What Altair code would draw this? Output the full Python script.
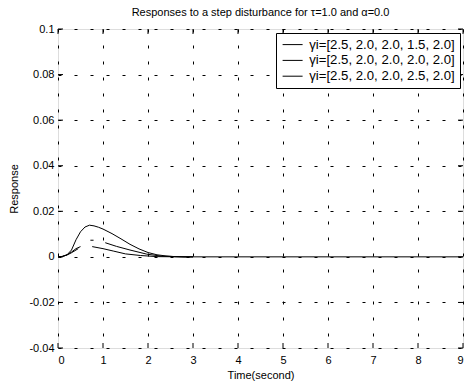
import altair as alt
import pandas as pd

FONT = "Liberation Sans"

series_labels = [
    "γi=[2.5, 2.0, 2.0, 1.5, 2.0]",
    "γi=[2.5, 2.0, 2.0, 2.0, 2.0]",
    "γi=[2.5, 2.0, 2.0, 2.5, 2.0]",
]

# curve 1 (gamma5 = 1.5)
c1_t = [0, 0.1, 0.2, 0.3, 0.4, 0.5, 0.6, 0.7, 0.8, 0.9, 1.0, 1.2, 1.4, 1.6, 1.8, 2.0, 2.2, 2.4, 2.6, 2.8, 3.0, 9.0]
c1_y = [0, 0.0002, 0.0009, 0.0030, 0.0075, 0.0110, 0.0131, 0.0139, 0.0136, 0.0130, 0.0122, 0.0102, 0.0079,
        0.0055, 0.0035, 0.0019, 0.0009, 0.0004, 0.0001, 0, 0, 0]

# curve 2 (gamma5 = 2.0), drawn in broken pieces as in the picture
c2a_t = [0, 0.1, 0.2, 0.3, 0.4, 0.45]
c2a_y = [0, 0.0002, 0.0008, 0.0018, 0.0030, 0.0036]
c2b_t = [0.76, 1.0, 1.24, 1.5, 1.83, 2.2, 2.8, 3.0]
c2b_y = [0.0045, 0.0036, 0.0025, 0.0013, 0.0006, 0.0001, 0, 0]

# curve 3 (gamma5 = 2.5)
c3a_t = [0, 0.1, 0.2, 0.3, 0.4, 0.5]
c3a_y = [0, 0.0002, 0.0009, 0.0021, 0.0036, 0.0045]
c3b_t = [0.72, 0.79]
c3b_y = [0.0073, 0.0073]
c3c_t = [1.05, 1.3, 1.6, 1.97, 2.3, 2.8, 3.0]
c3c_y = [0.0062, 0.0046, 0.0030, 0.0012, 0.0003, 0, 0]

x_ticks = [0, 1, 2, 3, 4, 5, 6, 7, 8, 9]
y_ticks = [-0.04, -0.02, 0, 0.02, 0.04, 0.06, 0.08, 0.1]

rows = []
for s, seg, ts, ys in [
    (0, "1a", c1_t, c1_y),
    (1, "2a", c2a_t, c2a_y), (1, "2b", c2b_t, c2b_y),
    (2, "3a", c3a_t, c3a_y), (2, "3b", c3b_t, c3b_y), (2, "3c", c3c_t, c3c_y),
]:
    for t, y in zip(ts, ys):
        rows.append({"t": t, "y": y, "series": series_labels[s], "seg": seg})
df = pd.DataFrame(rows)

W, H = 405, 319

xscale = alt.Scale(domain=[0, 9], nice=False, zero=False)
yscale = alt.Scale(domain=[-0.04, 0.1], nice=False, zero=False)

axis_common = dict(ticks=False, domain=False, grid=True, gridDash=[3, 13], gridColor="black",
                   gridOpacity=1, gridWidth=1,
                   labelFont=FONT, labelFontSize=11, labelColor="black",
                   titleFont=FONT, titleFontSize=11, titleFontWeight="normal", titleColor="black")

lines = alt.Chart(df).mark_line(strokeWidth=1, clip=True).encode(
    x=alt.X("t:Q", scale=xscale,
            axis=alt.Axis(values=x_ticks, title="Time(second)", labelPadding=6, titlePadding=4,
                          format="d", **axis_common)),
    y=alt.Y("y:Q", scale=yscale,
            axis=alt.Axis(values=y_ticks, title="Response", labelPadding=4, titlePadding=9,
                          labelExpr="datum.value < -1e-9 ? '-' + format(-datum.value, '.2~f') : format(abs(datum.value) < 1e-9 ? 0 : datum.value, '.2~f')",
                          **axis_common)),
    color=alt.Color("series:N", sort=series_labels,
                    scale=alt.Scale(domain=series_labels, range=["black", "black", "black"]),
                    legend=alt.Legend(title=None, orient="none", legendX=218, legendY=4,
                                      strokeColor="black", fillColor="white", padding=5,
                                      symbolType="M-2,0H2", symbolSize=100, symbolStrokeWidth=1,
                                      symbolStrokeColor="black", symbolOpacity=1,
                                      symbolOffset=5, labelOffset=10,
                                      labelFont=FONT, labelFontSize=13.2, labelColor="black",
                                      rowPadding=1.8, labelLimit=0, cornerRadius=0)),
    detail="seg:N",
)

xt = pd.DataFrame({"v": x_ticks})
yt = pd.DataFrame({"v": y_ticks})

xt_top = alt.Chart(xt).mark_rule(color="black", strokeWidth=1).encode(
    x=alt.X("v:Q", scale=xscale), y=alt.value(0), y2=alt.value(5))
xt_bot = alt.Chart(xt).mark_rule(color="black", strokeWidth=1).encode(
    x=alt.X("v:Q", scale=xscale), y=alt.value(H), y2=alt.value(H - 5))
yt_left = alt.Chart(yt).mark_rule(color="black", strokeWidth=1).encode(
    y=alt.Y("v:Q", scale=yscale), x=alt.value(0), x2=alt.value(5))
yt_right = alt.Chart(yt).mark_rule(color="black", strokeWidth=1).encode(
    y=alt.Y("v:Q", scale=yscale), x=alt.value(W), x2=alt.value(W - 5))

chart = alt.layer(lines, xt_top, xt_bot, yt_left, yt_right).properties(
    width=W, height=H,
    autosize="none",
    padding={"left": 58, "top": 29, "right": 2, "bottom": 35},
    title=alt.TitleParams("Responses to a step disturbance for τ=1.0 and α=0.0",
                          font=FONT, fontSize=11, fontWeight="normal", color="black",
                          anchor="middle", offset=5),
).configure_view(
    stroke="black", strokeWidth=1, fill="white"
).configure(background="white")

chart.save("out.html", embed_options={"renderer": "svg", "actions": False})
